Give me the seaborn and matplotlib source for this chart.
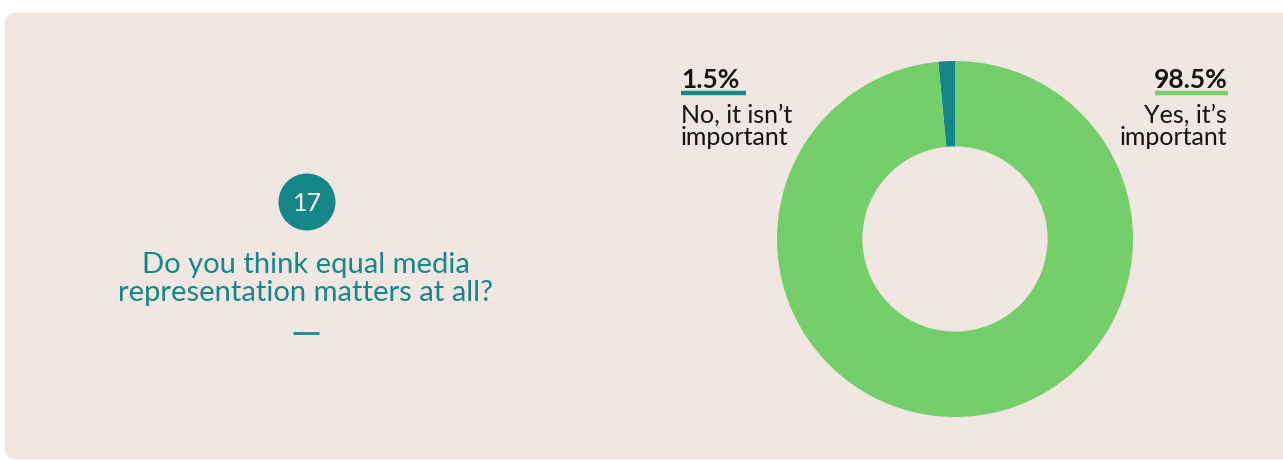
import matplotlib
matplotlib.use("Agg")
import matplotlib.pyplot as plt
from matplotlib.patches import FancyBboxPatch, Circle
import seaborn as sns

# Survey answers
answers = ["No, it isn\u2019t\nimportant", "Yes, it\u2019s\nimportant"]
shares = [1.5, 98.5]
share_labels = ["1.5%", "98.5%"]
question_no = "17"
question = "Do you think equal media\nrepresentation matters at all?"

TEAL = "#158789"
GREEN = "#74CF6B"
PANEL = "#F0E7E2"
INK = "#141414"

sns.set_theme(style="white")
plt.rcParams["font.family"] = ["Lato", "DejaVu Sans"]

W, H = 1283, 461
fig = plt.figure(figsize=(W / 100, H / 100), dpi=100)
fig.patch.set_facecolor("white")

# Overlay axes in pixel coordinates for the panel and text
bg = fig.add_axes([0, 0, 1, 1])
bg.set_xlim(0, W)
bg.set_ylim(H, 0)
bg.axis("off")
bg.add_patch(FancyBboxPatch((5, 13), W + 20, 446, boxstyle="round,pad=0,rounding_size=9",
                            facecolor=PANEL, edgecolor="none"))

# Question badge and title
bg.add_patch(Circle((307, 202), 28.5, facecolor=TEAL, edgecolor="none"))
bg.text(307, 203, question_no, color="white", fontsize=18, ha="center", va="center")
bg.text(306, 279, question, color=TEAL, fontsize=21, ha="center", va="center",
        linespacing=1.12)
bg.plot([293, 319], [333, 333], color=TEAL, lw=2, solid_capstyle="butt")

# Donut chart
cx, cy, r = 955, 239, 178
pie_ax = fig.add_axes([(cx - r) / W, (H - cy - r) / H, 2 * r / W, 2 * r / H])
pie_ax.pie(shares, colors=[TEAL, GREEN], startangle=90, counterclock=True,
           wedgeprops=dict(width=0.48, edgecolor="none"))
pie_ax.set_xlim(-1, 1)
pie_ax.set_ylim(-1, 1)
pie_ax.set_aspect("auto")
pie_ax.axis("off")

# Annotations: left (small share) and right (large share)
bg.text(681, 88, share_labels[0], color=INK, fontsize=19, fontweight="bold",
        ha="left", va="baseline")
bg.plot([681, 746], [93, 93], color=TEAL, lw=3.2, solid_capstyle="butt")
bg.text(681, 126, answers[0], color=INK, fontsize=18, ha="left", va="center",
        linespacing=0.95)

bg.text(1228, 88, share_labels[1], color=INK, fontsize=19, fontweight="bold",
        ha="right", va="baseline")
bg.plot([1155, 1228], [93, 93], color=GREEN, lw=3.2, solid_capstyle="butt")
bg.text(1227, 126, answers[1], color=INK, fontsize=18, ha="right", va="center",
        linespacing=0.95, multialignment="right")

fig.savefig("out.png", dpi=100, facecolor=fig.get_facecolor())
